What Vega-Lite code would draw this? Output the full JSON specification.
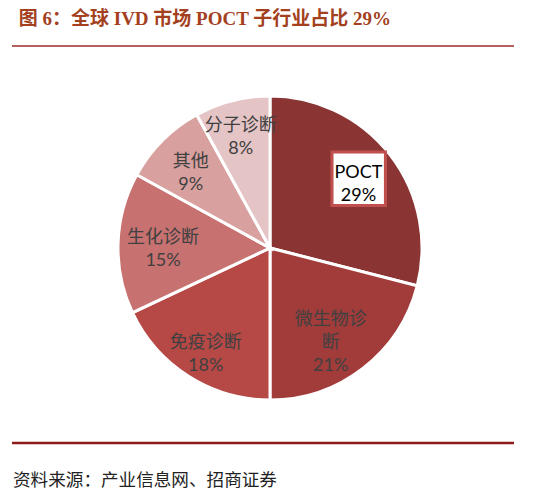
{
  "$schema": "https://vega.github.io/schema/vega-lite/v6.json",
  "width": 502,
  "height": 397,
  "autosize": "none",
  "padding": {"left": 12, "top": 46, "right": 40, "bottom": 53},
  "background": "white",
  "config": {"view": {"stroke": null}},
  "title": {
    "text": "图 6：全球 IVD 市场 POCT 子行业占比 29%",
    "anchor": "start",
    "font": "Liberation Serif, Noto Sans CJK SC",
    "fontSize": 19,
    "fontWeight": "bold",
    "color": "#A3401E",
    "offset": 16,
    "dx": 8
  },
  "data": {
    "values": [
      {"name": "POCT", "value": 29, "label": "POCT\n29%"},
      {"name": "微生物诊断", "value": 21, "label": "微生物诊\n断\n21%"},
      {"name": "免疫诊断", "value": 18, "label": "免疫诊断\n18%"},
      {"name": "生化诊断", "value": 15, "label": "生化诊断\n15%"},
      {"name": "其他", "value": 9, "label": "其他\n9%"},
      {"name": "分子诊断", "value": 8, "label": "分子诊断\n8%"}
    ]
  },
  "encoding": {
    "theta": {"field": "value", "type": "quantitative", "stack": true},
    "order": {"field": "value", "sort": "descending"}
  },
  "layer": [
    {
      "mark": {"type": "arc", "outerRadius": 152, "stroke": "white", "strokeWidth": 3, "xOffset": 7, "yOffset": 3.5},
      "encoding": {
        "color": {
          "field": "name",
          "type": "nominal",
          "scale": {
            "domain": ["POCT", "微生物诊断", "免疫诊断", "生化诊断", "其他", "分子诊断"],
            "range": ["#8A3534", "#A13C3B", "#B64846", "#C77270", "#D8A19F", "#E5C4C5"]
          },
          "legend": null
        }
      }
    },
    {
      "mark": {"type": "text", "font": "DejaVu Sans", "fontSize": 70, "fill": "white", "stroke": "#C0504D", "strokeWidth": 3, "baseline": "middle", "align": "center", "xOffset": 7, "yOffset": 0.5},
      "encoding": {
        "radius": {"value": 112},
        "text": {"condition": {"test": "datum.name === 'POCT'", "value": "■"}, "value": ""}
      }
    },
    {
      "mark": {"type": "text", "font": "Lato, Noto Sans CJK SC", "fontSize": 18, "lineHeight": 23, "lineBreak": "\n", "fill": "#000000", "baseline": "middle", "align": "center", "xOffset": 7, "yOffset": -3},
      "encoding": {
        "radius": {"value": 112},
        "text": {"condition": {"test": "datum.name === 'POCT'", "field": "label"}, "value": ""}
      }
    },
    {
      "mark": {"type": "text", "font": "Lato, Noto Sans CJK SC", "fontSize": 18, "lineHeight": 23, "lineBreak": "\n", "fill": "#404040", "baseline": "middle", "align": "center", "xOffset": 7, "yOffset": -3},
      "encoding": {
        "radius": {"value": 112},
        "text": {"condition": {"test": "datum.name === '其他'", "field": "label"}, "value": ""}
      }
    },
    {
      "mark": {"type": "text", "font": "Lato, Noto Sans CJK SC", "fontSize": 18, "lineHeight": 23, "lineBreak": "\n", "fill": "#404040", "baseline": "middle", "align": "center", "xOffset": 7, "yOffset": -3},
      "encoding": {
        "radius": {"value": 99},
        "text": {"condition": {"test": "datum.name === '微生物诊断'", "field": "label"}, "value": ""}
      }
    },
    {
      "mark": {"type": "text", "font": "Lato, Noto Sans CJK SC", "fontSize": 18, "lineHeight": 23, "lineBreak": "\n", "fill": "#404040", "baseline": "middle", "align": "center", "xOffset": 7, "yOffset": -3},
      "encoding": {
        "radius": {"value": 120},
        "text": {"condition": {"test": "datum.name === '免疫诊断'", "field": "label"}, "value": ""}
      }
    },
    {
      "mark": {"type": "text", "font": "Lato, Noto Sans CJK SC", "fontSize": 18, "lineHeight": 23, "lineBreak": "\n", "fill": "#404040", "baseline": "middle", "align": "center", "xOffset": 7, "yOffset": -3},
      "encoding": {
        "radius": {"value": 107},
        "text": {"condition": {"test": "datum.name === '生化诊断'", "field": "label"}, "value": ""}
      }
    },
    {
      "mark": {"type": "text", "font": "Lato, Noto Sans CJK SC", "fontSize": 18, "lineHeight": 23, "lineBreak": "\n", "fill": "#404040", "baseline": "middle", "align": "center", "xOffset": 7, "yOffset": -4},
      "encoding": {
        "radius": {"value": 118},
        "text": {"condition": {"test": "datum.name === '分子诊断'", "field": "label"}, "value": ""}
      }
    },
    {
      "data": {"values": [{"line": "top"}]},
      "mark": {"type": "rule", "color": "#9E2A2A", "strokeWidth": 1.5},
      "encoding": {
        "theta": null,
        "order": null,
        "y": {"datum": 1, "type": "quantitative", "scale": {"domain": [0, 1]}, "axis": null}
      }
    },
    {
      "data": {"values": [{"line": "bottom"}]},
      "mark": {"type": "rule", "color": "#8B1A1A", "strokeWidth": 2.5},
      "encoding": {
        "theta": null,
        "order": null,
        "y": {"datum": 0, "type": "quantitative", "scale": {"domain": [0, 1]}, "axis": null}
      }
    },
    {
      "data": {"values": [{"source": "资料来源：产业信息网、招商证券"}]},
      "mark": {"type": "text", "font": "Noto Sans CJK SC", "fontSize": 17.6, "fill": "#222222", "align": "left", "baseline": "middle", "dx": 1, "dy": 38},
      "encoding": {
        "theta": null,
        "order": null,
        "x": {"datum": 0, "type": "quantitative", "scale": {"domain": [0, 1]}, "axis": null},
        "y": {"datum": 0, "type": "quantitative", "scale": {"domain": [0, 1]}, "axis": null},
        "text": {"field": "source"}
      }
    }
  ]
}
